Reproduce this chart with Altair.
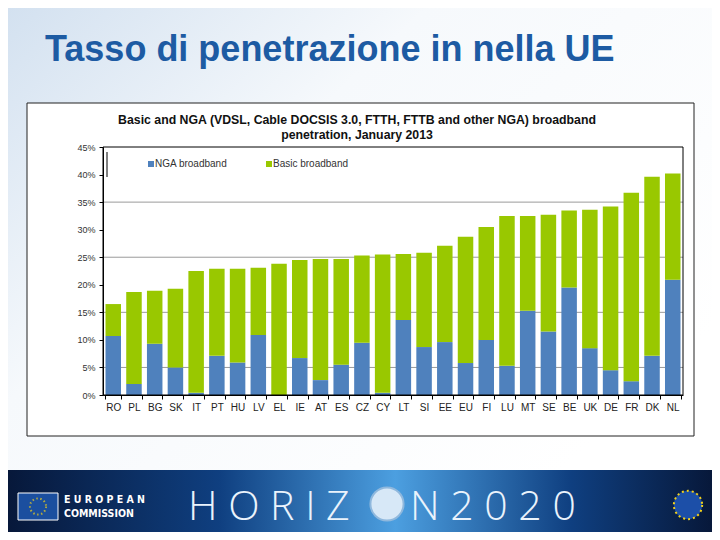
import altair as alt
import pandas as pd

countries = ["RO","PL","BG","SK","IT","PT","HU","LV","EL","IE","AT","ES","CZ","CY",
             "LT","SI","EE","EU","FI","LU","MT","SE","BE","UK","DE","FR","DK","NL"]
total = [16.5,18.7,18.9,19.3,22.5,22.9,22.9,23.1,23.8,24.5,24.7,24.7,25.3,25.5,
         25.6,25.8,27.1,28.7,30.5,32.5,32.5,32.7,33.5,33.6,34.2,36.7,39.6,40.2]
nga = [10.7,2.0,9.3,5.0,0.4,7.1,5.9,10.9,0.0,6.7,2.7,5.5,9.5,0.4,
       13.6,8.7,9.6,5.8,10.0,5.3,15.3,11.5,19.5,8.5,4.5,2.5,7.1,20.9]
series = ["NGA broadband", "Basic broadband"]
colors = ["#4f81bd", "#99c800"]
grid_vals = [0.05, 0.15, 0.25, 0.35]
tick_vals = [0.0, 0.05, 0.10, 0.15, 0.20, 0.25, 0.30, 0.35, 0.40, 0.45]

rows = []
for c, t, n in zip(countries, total, nga):
    rows.append({"country": c, "type": series[0], "value": n / 100, "order": 0})
    rows.append({"country": c, "type": series[1], "value": (t - n) / 100, "order": 1})
df = pd.DataFrame(rows)

W, H = 580, 248
FONT = "Liberation Sans"
one = alt.Data(values=[{}])

def deco():
    return alt.Chart(one)

y_scale = alt.Scale(domain=[0, 0.45], nice=False)
y_axis = alt.Axis(format=".0%", values=tick_vals,
                  labelFont=FONT, labelFontSize=9, labelColor="#333333",
                  tickSize=4, tickColor="#000000", domainColor="#000000",
                  labelPadding=4, grid=False, zindex=2, title=None)

bg = deco().mark_rect(fill={"gradient": "linear", "x1": 0, "y1": 0, "x2": 1, "y2": 0.7,
                            "stops": [{"offset": 0, "color": "#d3e1f0"},
                                      {"offset": 0.4, "color": "#f6f9fc"},
                                      {"offset": 1, "color": "#ffffff"}]}).encode(
    x=alt.value(-95), x2=alt.value(609), y=alt.value(-139), y2=alt.value(323))

frame = deco().mark_rect(fill="white", stroke="#222222", strokeWidth=1).encode(
    x=alt.value(-76), x2=alt.value(591), y=alt.value(-44), y2=alt.value(289))

banner = deco().mark_rect(fill={"gradient": "linear", "x1": 0, "y1": 0, "x2": 1, "y2": 0,
                                "stops": [{"offset": 0, "color": "#07183a"},
                                          {"offset": 0.3, "color": "#0f3f80"},
                                          {"offset": 0.55, "color": "#4c9fe0"},
                                          {"offset": 0.8, "color": "#0f3f80"},
                                          {"offset": 1, "color": "#07183a"}]}).encode(
    x=alt.value(-95), x2=alt.value(609), y=alt.value(323), y2=alt.value(385))

title = deco().mark_text(align="left", baseline="alphabetic", font=FONT, fontSize=36,
                         fontWeight="bold", color="#1d5ba3",
                         text="Tasso di penetrazione in nella UE").encode(
    x=alt.value(-58), y=alt.value(-86))

ct1 = deco().mark_text(align="center", baseline="alphabetic", font=FONT, fontSize=12.3,
                       fontWeight="bold", color="#111111",
                       text="Basic and NGA (VDSL, Cable DOCSIS 3.0, FTTH, FTTB and other NGA)  broadband").encode(
    x=alt.value(254), y=alt.value(-23))
ct2 = deco().mark_text(align="center", baseline="alphabetic", font=FONT, fontSize=12.3,
                       fontWeight="bold", color="#111111",
                       text="penetration, January 2013").encode(
    x=alt.value(254), y=alt.value(-8))

grid = alt.Chart(pd.DataFrame({"value": grid_vals})).mark_rule(color="#9a9a9a", strokeWidth=1).encode(
    y=alt.Y("value:Q", scale=y_scale, axis=y_axis))

bars = alt.Chart(df).mark_bar(size=15.5).encode(
    x=alt.X("country:N", sort=countries, title=None,
            scale=alt.Scale(paddingInner=0.25, paddingOuter=0.12),
            axis=alt.Axis(labelAngle=0, labelFont=FONT, labelFontSize=10, labelColor="#222222",
                          tickBand="extent", tickSize=4, tickColor="#000000",
                          domainColor="#000000", labelPadding=3, zindex=2)),
    y=alt.Y("value:Q", stack="zero", scale=y_scale, axis=y_axis),
    color=alt.Color("type:N", scale=alt.Scale(domain=series, range=colors), legend=None),
    order=alt.Order("order:Q"),
)

border = deco().mark_rect(fill=None, stroke="#000000", strokeWidth=1).encode(
    x=alt.value(0), x2=alt.value(W), y=alt.value(0), y2=alt.value(H))

vline = deco().mark_rule(color="#000000").encode(
    x=alt.value(4), y=alt.value(5), y2=alt.value(30))

leg_sq1 = deco().mark_rect(fill=colors[0]).encode(
    x=alt.value(45), x2=alt.value(51), y=alt.value(14), y2=alt.value(20))
leg_t1 = deco().mark_text(align="left", baseline="middle", font=FONT, fontSize=10,
                          color="#333333", text=series[0]).encode(
    x=alt.value(52), y=alt.value(17))
leg_sq2 = deco().mark_rect(fill=colors[1]).encode(
    x=alt.value(163), x2=alt.value(169), y=alt.value(14), y2=alt.value(20))
leg_t2 = deco().mark_text(align="left", baseline="middle", font=FONT, fontSize=10,
                          color="#333333", text=series[1]).encode(
    x=alt.value(170), y=alt.value(17))

flag = deco().mark_rect(fill="#1b4f9f", stroke="#ffffff", strokeWidth=1).encode(
    x=alt.value(-85), x2=alt.value(-45), y=alt.value(346), y2=alt.value(373))
flag_stars = deco().mark_point(shape="circle", size=260, stroke="#f3d21a", strokeWidth=2,
                               strokeDash=[1.5, 2.5], filled=False).encode(
    x=alt.value(-65), y=alt.value(359.5))
ec1 = deco().mark_text(align="left", baseline="alphabetic", font="DejaVu Sans Condensed",
                       fontSize=10.5, fontWeight="bold", color="#ffffff",
                       text="E U R O P E A N").encode(x=alt.value(-39), y=alt.value(356))
ec2 = deco().mark_text(align="left", baseline="alphabetic", font="DejaVu Sans Condensed",
                       fontSize=10.5, fontWeight="bold", color="#ffffff",
                       text="COMMISSION").encode(x=alt.value(-39), y=alt.value(370))
hz1 = deco().mark_text(align="left", baseline="alphabetic", font="Open Sans", fontSize=41,
                       fontWeight=300, color="#eaf3fc", text="H O R I Z").encode(
    x=alt.value(85), y=alt.value(373))
globe = deco().mark_point(shape="circle", size=1100, filled=True, fill="#d7e8f7",
                          stroke="#8fb8dd", strokeWidth=2, opacity=1).encode(
    x=alt.value(284), y=alt.value(357))
hz2 = deco().mark_text(align="left", baseline="alphabetic", font="Open Sans", fontSize=41,
                       fontWeight=300, color="#eaf3fc", text="N  2 0 2 0").encode(
    x=alt.value(307), y=alt.value(373))
eu_logo = deco().mark_point(shape="circle", size=800, filled=True, fill="#1c4fa8",
                            stroke="#f3d21a", strokeWidth=2, strokeDash=[2, 3], opacity=1).encode(
    x=alt.value(585), y=alt.value(358))

chart = alt.layer(
    bg, frame, banner, title, ct1, ct2, grid, bars, border, vline,
    leg_sq1, leg_t1, leg_sq2, leg_t2,
    flag, flag_stars, ec1, ec2, hz1, globe, hz2, eu_logo,
).properties(
    width=W, height=H,
    autosize=alt.AutoSizeParams(type="none"),
    padding={"left": 95, "top": 139, "right": 29, "bottom": 137},
    background="white",
).configure_view(stroke=None)

chart.save("out.html", embed_options={"renderer": "svg", "actions": False})
